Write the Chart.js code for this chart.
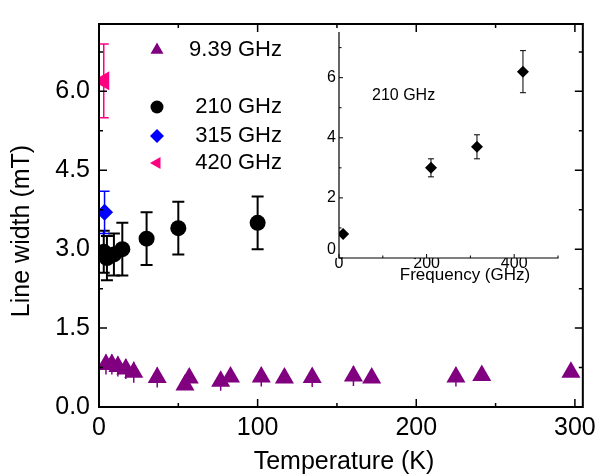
<!DOCTYPE html>
<html>
<head>
<meta charset="utf-8">
<script src="https://cdn.jsdelivr.net/npm/chart.js@4.4.1/dist/chart.umd.min.js"></script>
<style>
  html, body { margin: 0; padding: 0; background: #fff; }
  #wrap { position: relative; width: 602px; height: 474px; }
  #main { position: absolute; left: 0; top: 0; }
  #inset { position: absolute; left: 300px; top: 20px; }
</style>
</head>
<body>
<div id="wrap">
  <canvas id="main" width="602" height="474"></canvas>
  <canvas id="inset" width="270" height="290"></canvas>
</div>
<script>
// --- linewidth vs temperature, one series per frequency ---
const temp939  = [4.4, 8.1, 11.9, 16.9, 21.9, 36.7, 54.2, 56.9, 76.7, 82.9, 102.3, 116.9, 134.4, 160.4, 171.9, 225, 241.3, 297.5];
const width939 = [0.81, 0.81, 0.77, 0.72, 0.66, 0.56, 0.42, 0.55, 0.49, 0.57, 0.57, 0.55, 0.56, 0.59, 0.55, 0.57, 0.60, 0.66];
const err939   = [0.19, 0.19, 0.19, 0.19, 0.2, 0.19, 0.08, 0.08, 0.18, 0.08, 0.18, 0.08, 0.18, 0.19, 0.08, 0.18, 0.08, 0.08];

const temp210  = [3, 5, 9.4, 14.7, 30, 50, 100];
const width210 = [2.95, 2.83, 2.9, 3.0, 3.2, 3.4, 3.5];
const err210   = [0.4, 0.42, 0.4, 0.5, 0.5, 0.5, 0.5];

const temp315  = [3.5];
const width315 = [3.7];
const err315   = [0.4];

const temp420  = [3];
const width420 = [6.2];
const err420   = [0.7];

// --- inset: low temperature linewidth vs frequency ---
const freqGHz  = [9.39, 210, 315, 420];
const lowTempWidth = [0.8, 3.0, 3.7, 6.2];
const lowTempErr   = [0, 0.3, 0.4, 0.7];

// tick positions
const tempTicks  = [0, 100, 200, 300];
const widthTicks = [0, 1.5, 3.0, 4.5, 6.0];
const freqTicks  = [0, 200, 400];
const insetWidthTicks = [0, 2, 4, 6];

const FONT = "'Liberation Sans', Arial, sans-serif";
Chart.defaults.font.family = FONT;
Chart.defaults.color = '#000';

const pts = (xs, ys) => xs.map((x, i) => ({ x, y: ys[i] }));
const fixedTicks = vals => s => { s.ticks = vals.map(value => ({ value })); };

// vertical error bars, drawn under the markers
const errorBars = {
  id: 'errorBars',
  beforeDatasetsDraw(chart) {
    const { ctx, chartArea: a, scales: { x, y } } = chart;
    ctx.save();
    ctx.beginPath();
    ctx.rect(a.left, a.top, a.width, a.height);
    ctx.clip();
    chart.data.datasets.forEach(ds => {
      if (!ds.errors) return;
      ctx.strokeStyle = ds.backgroundColor;
      ctx.lineWidth = ds.errWidth;
      const c = ds.capWidth / 2;
      ds.data.forEach((p, i) => {
        const e = ds.errors[i];
        if (!e) return;
        const px = x.getPixelForValue(p.x);
        const top = y.getPixelForValue(p.y + e);
        const bot = y.getPixelForValue(p.y - e);
        ctx.beginPath();
        ctx.moveTo(px, top); ctx.lineTo(px, bot);
        if (c) {
          ctx.moveTo(px - c, top); ctx.lineTo(px + c, top);
          ctx.moveTo(px - c, bot); ctx.lineTo(px + c, bot);
        }
        ctx.stroke();
      });
    });
    ctx.restore();
  }
};

// majors from the scale, minors half way between
function tickValues(scale) {
  const major = scale.ticks.map(t => t.value);
  const half = (major[1] - major[0]) / 2;
  const minor = [];
  major.forEach(v => { if (v + half <= scale.max + 1e-9) minor.push(v + half); });
  if (major[0] - half >= scale.min) minor.unshift(major[0] - half);
  return { major, minor };
}

// axis lines with inward tick marks
function frame(sides, lw, majLen, minLen) {
  return {
    id: 'frame',
    afterDatasetsDraw(chart) {
      const { ctx, chartArea: a, scales: { x, y } } = chart;
      ctx.save();
      ctx.strokeStyle = '#000';
      ctx.lineCap = 'square';
      ctx.lineWidth = lw;
      ctx.beginPath();
      if (sides.includes('l')) { ctx.moveTo(a.left, a.top); ctx.lineTo(a.left, a.bottom); }
      if (sides.includes('r')) { ctx.moveTo(a.right, a.top); ctx.lineTo(a.right, a.bottom); }
      if (sides.includes('t')) { ctx.moveTo(a.left, a.top); ctx.lineTo(a.right, a.top); }
      if (sides.includes('b')) { ctx.moveTo(a.left, a.bottom); ctx.lineTo(a.right, a.bottom); }
      ctx.stroke();

      ctx.lineCap = 'butt';
      ctx.lineWidth = Math.max(1, lw * 0.75);
      ctx.beginPath();
      const xt = tickValues(x), yt = tickValues(y);
      const hx = (vals, len) => vals.forEach(v => {
        const px = x.getPixelForValue(v);
        if (sides.includes('b')) { ctx.moveTo(px, a.bottom); ctx.lineTo(px, a.bottom - len); }
        if (sides.includes('t')) { ctx.moveTo(px, a.top); ctx.lineTo(px, a.top + len); }
      });
      const vy = (vals, len) => vals.forEach(v => {
        const py = y.getPixelForValue(v);
        if (sides.includes('l')) { ctx.moveTo(a.left, py); ctx.lineTo(a.left + len, py); }
        if (sides.includes('r')) { ctx.moveTo(a.right, py); ctx.lineTo(a.right - len, py); }
      });
      hx(xt.major, majLen); hx(xt.minor, minLen);
      vy(yt.major, majLen); vy(yt.minor, minLen);
      ctx.stroke();
      ctx.restore();
    }
  };
}

// axis titles and the symbol key
const mainText = {
  id: 'mainText',
  afterDraw(chart) {
    const ctx = chart.ctx;
    ctx.save();
    ctx.fillStyle = '#000';
    ctx.textAlign = 'center';
    ctx.textBaseline = 'middle';
    ctx.font = '25px ' + FONT;
    ctx.fillText('Temperature (K)', 344, 462);
    ctx.save();
    ctx.translate(22, 231);
    ctx.rotate(-Math.PI / 2);
    ctx.fillText('Line width (mT)', 0, 0);
    ctx.restore();

    const rows = [50, 107, 136, 163];
    const sizes = [7.5, 6.5, 7, 7];
    ctx.font = '22px ' + FONT;
    ctx.textAlign = 'right';
    chart.data.datasets.forEach((ds, i) => {
      ctx.fillStyle = ds.backgroundColor;
      Chart.helpers.drawPoint(ctx, { pointStyle: ds.pointStyle, rotation: ds.rotation || 0, radius: sizes[i], borderWidth: 0 }, 157, rows[i]);
      ctx.fillStyle = '#000';
      ctx.fillText(ds.label, 282, rows[i]);
    });
    ctx.restore();
  }
};

const insetText = {
  id: 'insetText',
  afterDraw(chart) {
    const ctx = chart.ctx;
    const y = chart.scales.y;
    ctx.save();
    ctx.fillStyle = '#000';
    ctx.textBaseline = 'middle';
    ctx.font = '17px ' + FONT;
    ctx.textAlign = 'center';
    ctx.fillText('Frequency (GHz)', 165, 255);
    ctx.textAlign = 'left';
    ctx.font = '16px ' + FONT;
    ctx.fillText('210 GHz', 72, 76);
    // zero of the y axis sits a little above the corner
    ctx.textAlign = 'right';
    ctx.fillText('0', chart.chartArea.left - 3, y.getPixelForValue(0) - 8);
    ctx.restore();
  }
};

const quiet = { legend: { display: false }, tooltip: { enabled: false } };
const noGrid = { display: false, drawTicks: false };

new Chart(document.getElementById('main'), {
  type: 'scatter',
  data: {
    datasets: [
      { label: '9.39 GHz', data: pts(temp939, width939), errors: err939, errWidth: 1.5, capWidth: 0,
        pointStyle: 'triangle', pointRadius: 11, backgroundColor: '#800080', borderWidth: 0, clip: 0 },
      { label: '210 GHz', data: pts(temp210, width210), errors: err210, errWidth: 2, capWidth: 12,
        pointStyle: 'circle', pointRadius: 8, backgroundColor: '#000000', borderWidth: 0, clip: 0 },
      { label: '315 GHz', data: pts(temp315, width315), errors: err315, errWidth: 1.5, capWidth: 10,
        pointStyle: 'rectRot', pointRadius: 8.5, backgroundColor: '#0000ff', borderWidth: 0, clip: 0 },
      { label: '420 GHz', data: pts(temp420, width420), errors: err420, errWidth: 1.5, capWidth: 10,
        pointStyle: 'triangle', rotation: -90, pointRotation: -90, pointRadius: 11, backgroundColor: '#ff0080', borderWidth: 0, clip: 0 }
    ]
  },
  options: {
    responsive: false,
    animation: false,
    events: [],
    layout: { padding: { top: 14, right: 15, left: 0, bottom: 0 } },
    plugins: quiet,
    scales: {
      x: {
        type: 'linear', min: 0, max: 305,
        grid: noGrid, border: { display: false },
        afterBuildTicks: fixedTicks(tempTicks),
        ticks: { padding: 6, font: { size: 25 }, maxRotation: 0, autoSkip: false },
        afterFit: s => { s.height = 67; }
      },
      y: {
        type: 'linear', min: 0, max: 7.28,
        grid: noGrid, border: { display: false },
        afterBuildTicks: fixedTicks(widthTicks),
        ticks: { padding: 9, font: { size: 25 }, autoSkip: false, callback: v => v.toFixed(1) },
        afterFit: s => { s.width = 99; }
      }
    }
  },
  plugins: [errorBars, frame('lrtb', 2, 8, 4), mainText]
});

new Chart(document.getElementById('inset'), {
  type: 'scatter',
  data: {
    datasets: [
      { label: 'low T', data: pts(freqGHz, lowTempWidth), errors: lowTempErr, errWidth: 1, capWidth: 6,
        pointStyle: 'rectRot', pointRadius: 6, backgroundColor: '#000000', borderWidth: 0 }
    ]
  },
  options: {
    responsive: false,
    animation: false,
    events: [],
    layout: { padding: { top: 11, right: 12, left: 0, bottom: 0 } },
    plugins: quiet,
    scales: {
      x: {
        type: 'linear', min: 0, max: 500,
        grid: noGrid, border: { display: false },
        afterBuildTicks: fixedTicks(freqTicks),
        ticks: { padding: -4, font: { size: 16 }, maxRotation: 0, autoSkip: false },
        afterFit: s => { s.height = 52; }
      },
      y: {
        type: 'linear', min: 0, max: 7.5,
        grid: noGrid, border: { display: false },
        afterBuildTicks: fixedTicks(insetWidthTicks),
        ticks: { padding: 3, font: { size: 16 }, autoSkip: false, callback: v => (v === 0 ? '' : String(v)) },
        afterFit: s => { s.width = 39; }
      }
    }
  },
  plugins: [errorBars, frame('lb', 1.2, 4, 2.5), insetText]
});
</script>
</body>
</html>
